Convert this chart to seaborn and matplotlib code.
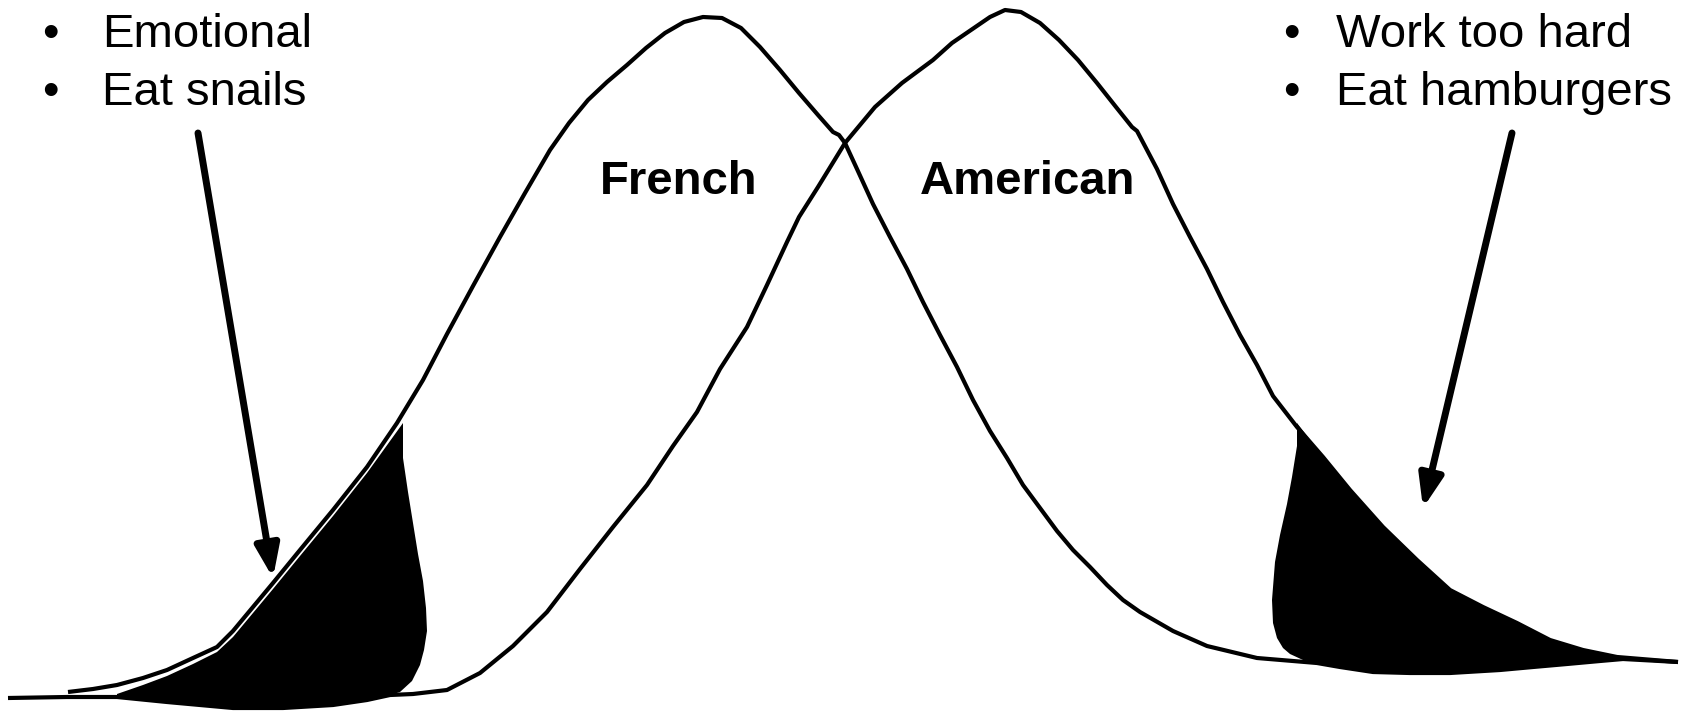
import matplotlib
matplotlib.use("Agg")
import matplotlib.pyplot as plt
import seaborn as sns

french_x = [68, 93, 117, 143, 167, 193, 217, 233, 253, 273, 300, 333, 367, 397, 423,
            447, 473, 500, 525, 550, 569, 588, 607, 627, 646, 665, 684, 703, 722,
            741, 760, 780, 799, 818, 833, 839, 845, 857, 873, 890, 907, 923, 940,
            957, 973, 990, 1007, 1023, 1040, 1057, 1073, 1090, 1107, 1123, 1140,
            1173, 1207, 1257, 1317, 1340, 1373, 1410, 1450, 1500, 1533, 1567, 1600,
            1623, 1678]
french_y = [692, 689, 685, 678, 670, 658, 647, 631, 607, 583, 550, 510, 467, 423, 380,
            334, 286, 237, 193, 150, 123, 100, 82, 65, 48, 33, 22, 17, 18,
            28, 47, 70, 93, 115, 132, 135, 143, 169, 204, 237, 269, 302, 335,
            367, 400, 431, 458, 485, 508, 531, 550, 567, 585, 600, 612,
            631, 646, 658, 663, 667, 672, 673, 673, 670, 667, 664, 661,
            659, 662]

american_x = [8, 67, 117, 167, 233, 283, 333, 367, 390, 413, 447, 480, 513, 547, 580,
              613, 647, 673, 697, 720, 747, 767, 787, 799, 818, 845, 875, 902, 933,
              952, 971, 990, 1005, 1021, 1040, 1059, 1078, 1097, 1116, 1132, 1137,
              1157, 1173, 1190, 1207, 1223, 1240, 1257, 1273, 1297, 1323, 1350, 1383,
              1417, 1450, 1483, 1517, 1550, 1583, 1617, 1678]
american_y = [698, 697, 697, 702, 708, 708, 705, 700, 695, 694, 690, 673, 646, 612, 569,
              527, 485, 446, 412, 369, 327, 285, 242, 217, 187, 143, 107, 83, 60,
              43, 30, 17, 10, 12, 23, 40, 60, 83, 107, 127, 131,
              169, 204, 237, 269, 302, 335, 365, 396, 427, 457, 490, 527,
              560, 590, 607, 623, 640, 650, 657, 662]

# shaded tails
left_tail_x = [117, 143, 167, 193, 217, 233, 253, 273, 300, 333, 367, 403,
               403, 408, 413, 418, 423, 426, 427, 424, 420, 412, 400,
               390, 367, 333, 283, 233, 167, 117]
left_tail_y = [694, 685, 676, 664, 652, 637, 613, 589, 556, 516, 473, 423,
               458, 492, 523, 554, 581, 608, 631, 650, 665, 681, 692,
               695, 701, 706, 709, 709, 703, 698]
right_tail_x = [1297, 1323, 1350, 1383, 1417, 1450, 1483, 1517, 1550, 1583, 1623,
                1600, 1567, 1533, 1500, 1450, 1410, 1373, 1340, 1317,
                1303, 1290, 1283, 1277, 1273, 1272, 1275, 1280, 1287, 1292, 1297]
right_tail_y = [423, 457, 490, 527, 560, 590, 607, 623, 640, 650, 658,
                661, 664, 667, 670, 673, 673, 672, 667, 663,
                660, 654, 648, 638, 623, 600, 562, 535, 504, 477, 446]

left_notes = ["Emotional", "Eat snails"]
right_notes = ["Work too hard", "Eat hamburgers"]
group_labels = ["French", "American"]

sns.set_theme(style="white")
plt.rcParams["font.family"] = ["Liberation Sans", "DejaVu Sans"]

fig = plt.figure(figsize=(16.86, 7.11), dpi=100)
ax = fig.add_axes([0, 0, 1, 1])

ax.fill(left_tail_x, left_tail_y, color="black", lw=0)
ax.fill(right_tail_x, right_tail_y, color="black", lw=0)

for xs, ys in [(french_x, french_y), (american_x, american_y)]:
    sns.lineplot(x=xs, y=ys, sort=False, estimator=None, color="black", lw=3,
                 ax=ax, solid_joinstyle="round", solid_capstyle="butt")

arrow_style = dict(arrowstyle="-|>,head_length=1.6,head_width=0.6", lw=5,
                   color="black", shrinkA=0, shrinkB=0)
ax.annotate("", xy=(273, 578), xytext=(198, 133), arrowprops=arrow_style)
ax.annotate("", xy=(1423, 508), xytext=(1512, 133), arrowprops=arrow_style)

for i, note in enumerate(left_notes):
    base = 47 + i * 58
    ax.text(50, base, "\u2022", fontsize=34, ha="center", va="baseline", color="black")
    ax.text(102, base, note, fontsize=34, ha="left", va="baseline", color="black")

for i, note in enumerate(right_notes):
    base = 47 + i * 58
    ax.text(1291, base, "\u2022", fontsize=34, ha="center", va="baseline", color="black")
    ax.text(1336, base, note, fontsize=34, ha="left", va="baseline", color="black")

ax.text(600, 194, group_labels[0], fontsize=34, fontweight="bold", va="baseline",
        color="black")
ax.text(920, 194, group_labels[1], fontsize=34, fontweight="bold", va="baseline",
        color="black")

ax.set_xlim(0, 1686)
ax.set_ylim(711, 0)
ax.axis("off")

fig.savefig("out.png", dpi=100, facecolor="white")
